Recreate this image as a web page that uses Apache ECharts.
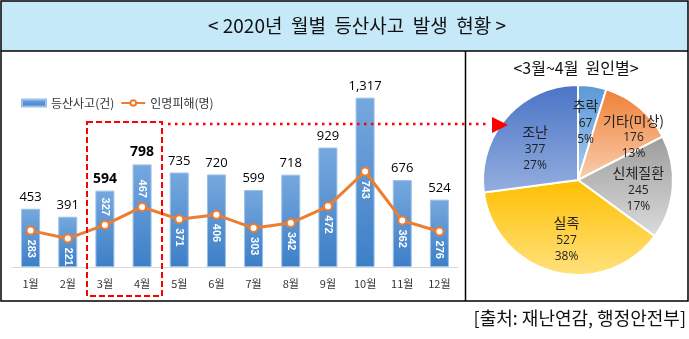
<!DOCTYPE html>
<html><head><meta charset="utf-8">
<script src="https://cdn.jsdelivr.net/npm/echarts@6/dist/echarts.min.js"></script>
<style>html,body{margin:0;padding:0;background:#fff}#c{width:689px;height:339px}</style>
</head><body><div id="c"></div>
<script>
var months = ['1월','2월','3월','4월','5월','6월','7월','8월','9월','10월','11월','12월'];
var accidents = [453,391,594,798,735,720,599,718,929,1317,676,524];
var casualties = [283,221,327,467,371,406,303,342,472,743,362,276];
var causeNames = ['추락','기타(미상)','신체질환','실족','조난'];
var causeValues = [67,176,245,527,377];
var causePct = [5,13,17,38,27];

var FONT = "'Noto Sans CJK KR', sans-serif";
var NUMFONT = "'Open Sans', 'Noto Sans CJK KR', sans-serif";
var chart = echarts.init(document.getElementById('c'), null, {renderer:'canvas'});

var pieColors = [
  ['#5a98d8','#a9cbee'],
  ['#ef7f36','#f9cfb0'],
  ['#9c9c9c','#dcdcdc'],
  ['#ffbf00','#ffe27e'],
  ['#4a74c6','#94aedf']
];
var pieOffsets = [[0,-8],[23,-5],[10,5],[1,10],[-5,1]];

var pieData = causeNames.map(function(n,i){
  return {
    name: n, value: causeValues[i],
    itemStyle: {color: new echarts.graphic.LinearGradient(0,0,0,1,[{offset:0,color:pieColors[i][0]},{offset:1,color:pieColors[i][1]}])},
    label: {offset: pieOffsets[i]}
  };
});

var barData = accidents.map(function(v,i){
  var bold = (i===2 || i===3);
  return {value: v, label: {fontWeight: bold ? 'bold' : 'normal', fontSize: bold ? 14 : 13}};
});
var lineData = casualties.map(function(v,i){
  var up = (i===2 || i===3);
  return {value: v, label: up ? {position:'top', align:'right'} : {position:'bottom', align:'left'}};
});

chart.setOption({
  animation: false,
  textStyle: {fontFamily: FONT},
  graphic: [
    {type:'rect', shape:{x:1,y:1,width:687,height:50}, style:{fill:'#c6e9fa', stroke:null}, z:0},
    {type:'rect', shape:{x:1,y:1,width:687,height:300}, style:{fill:null, stroke:'#000', lineWidth:1.5}, z:1},
    {type:'line', shape:{x1:1,y1:51,x2:688,y2:51}, style:{stroke:'#000', lineWidth:1.5}, z:1},
    {type:'line', shape:{x1:465.5,y1:51,x2:465.5,y2:301}, style:{stroke:'#000', lineWidth:1.5}, z:1},
    {type:'text', x:357, y:26, style:{text:'< 2020년  월별  등산사고  발생  현황 >', font:'19px ' + FONT, fill:'#111', textAlign:'center', textVerticalAlign:'middle'}, z:2},
    {type:'text', x:576, y:68, style:{text:'<3월~4월  원인별>', font:'16px ' + FONT, fill:'#111', textAlign:'center', textVerticalAlign:'middle'}, z:2},
    {type:'text', x:686, y:318, style:{text:'[출처: 재난연감, 행정안전부]', font:'18px ' + FONT, fill:'#111', textAlign:'right', textVerticalAlign:'middle'}, z:2},
    {type:'rect', shape:{x:87,y:122,width:75,height:174}, style:{fill:null, stroke:'#ff0000', lineWidth:2, lineDash:[6,3]}, z:20},
    {type:'line', shape:{x1:168,y1:124,x2:490,y2:124}, style:{stroke:'#ff0000', lineWidth:2.5, lineDash:[2.5,4.5]}, z:20},
    {type:'polygon', shape:{points:[[492,117],[508,125],[492,133]]}, style:{fill:'#ff0000'}, z:20}
  ],
  legend: {
    left: 16, top: 92, itemGap: 6, itemWidth: 24, itemHeight: 7,
    textStyle: {fontSize: 12, color:'#333', fontFamily: FONT},
    data: [{name:'등산사고(건)', icon:'rect'}, {name:'인명피해(명)'}]
  },
  grid: {left: 12, right: 231, top: 87, bottom: 72, containLabel: false},
  xAxis: {
    type:'category', data: months,
    axisLine: {lineStyle:{color:'#d9d9d9', width:1}},
    axisTick: {show:false},
    axisLabel: {color:'#333', fontSize:11, margin:11, fontFamily: FONT}
  },
  yAxis: {type:'value', min:0, max:1400, show:false, splitLine:{show:false}},
  series: [
    {
      name:'등산사고(건)', type:'bar', barWidth:19, data: barData,
      itemStyle: {
        color: new echarts.graphic.LinearGradient(0,0,0,1,[{offset:0,color:'#76a8de'},{offset:1,color:'#3d7fc7'}]),
        borderColor:'#9cc1e8', borderWidth:1
      },
      label: {show:true, position:'top', distance:5, color:'#000', fontFamily: NUMFONT,
        formatter: function(p){ return p.value.toLocaleString('en-US'); }},
      z: 2
    },
    {
      name:'인명피해(명)', type:'line', data: lineData, clip:false,
      lineStyle: {color:'#ed7d31', width:3},
      itemStyle: {color:'#fff', borderColor:'#ed7d31', borderWidth:2},
      symbol:'circle', symbolSize:8, showAllSymbol:true,
      label: {show:true, rotate:-90, verticalAlign:'middle', distance:4, color:'#fff', fontWeight:'bold', fontSize:11, fontFamily: "'Liberation Sans', Arial, sans-serif"},
      labelLayout: {hideOverlap:false},
      z: 5
    },
    {
      name:'원인별', type:'pie', center:[578,180], radius:95, startAngle:90, clockwise:true,
      data: pieData,
      itemStyle: {borderColor:'#fff', borderWidth:2},
      label: {
        show:true, position:'inside', color:'#222',
        formatter: function(p){ return '{n|' + p.name + '}\n{v|' + p.value + '}\n{v|' + causePct[p.dataIndex] + '%}'; },
        rich: {
          n: {fontSize:14, color:'#222', lineHeight:19, fontFamily: FONT},
          v: {fontSize:12, color:'#222', lineHeight:16, fontFamily: NUMFONT}
        }
      },
      labelLine: {show:false},
      emphasis: {disabled:true}
    }
  ]
});
</script></body></html>
